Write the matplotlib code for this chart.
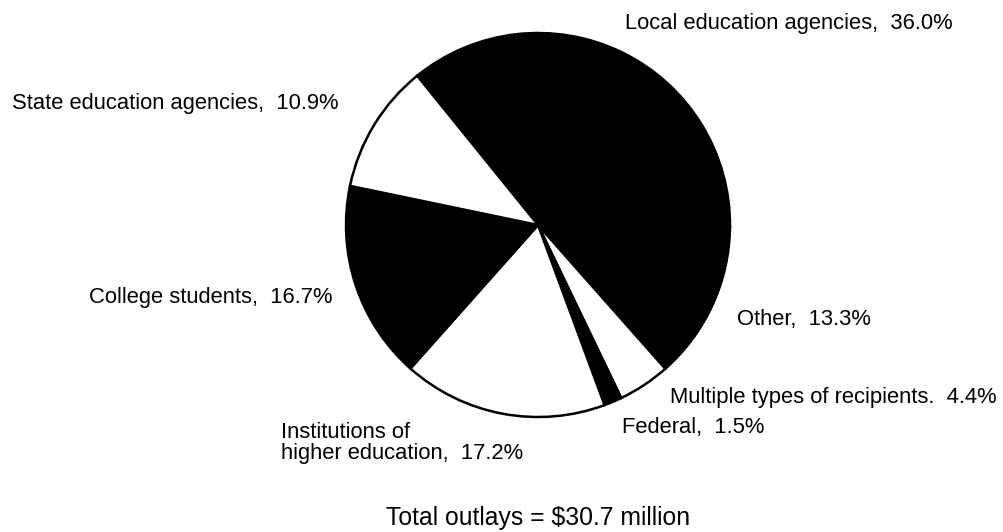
import matplotlib
matplotlib.use('Agg')
import matplotlib.pyplot as plt

# recipient shares (percent), clockwise from the upper left
names = ["Local education agencies", "Other", "Multiple types of recipients",
         "Federal", "Institutions of\nhigher education", "College students",
         "State education agencies"]
shares = [36.0, 13.3, 4.4, 1.5, 17.2, 16.7, 10.9]
puncts = [",", ",", ".", ",", ",", ",", ","]
fills = ["black", "black", "white", "black", "white", "black", "white"]
total_note = "Total outlays = $30.7 million"

W, H = 1004, 532
fig = plt.figure(figsize=(W / 100, H / 100), dpi=100)
ax = fig.add_axes([0, 0, 1, 1])

ax.pie(shares, colors=fills, startangle=129, counterclock=False,
       center=(538, H - 225), radius=192, frame=True,
       wedgeprops=dict(edgecolor='black', linewidth=1.8))
ax.set_xlim(0, W)
ax.set_ylim(0, H)
ax.set_aspect('equal')
ax.axis('off')

# label anchor points in pixels (left edge, vertical centre)
label_pos = [(625, 24), (737, 320), (670, 398), (622, 428), (281, 443),
             (89, 298), (12, 103)]
for name, p, s, (x, y) in zip(names, puncts, shares, label_pos):
    fig.text(x / W, 1 - y / H, f"{name}{p}  {s:.1f}%", ha='left', va='center',
             fontsize=15.8, family='Liberation Sans', linespacing=1.05)

fig.text(538 / W, 1 - 518 / H, total_note, ha='center', va='center',
         fontsize=17.8, family='Liberation Sans')

fig.savefig('out.png', dpi=100)
